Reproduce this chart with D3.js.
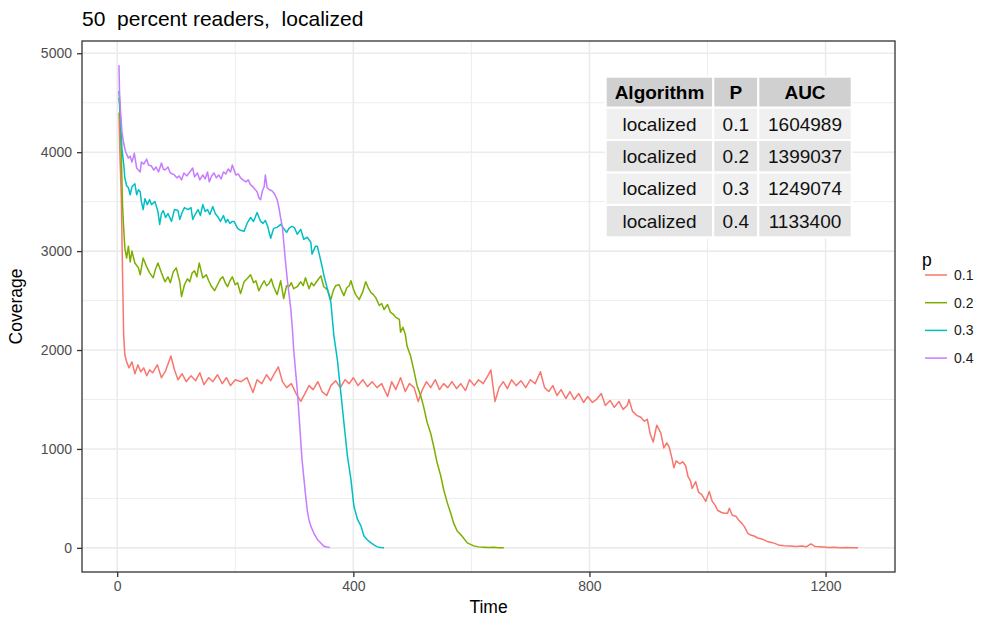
<!DOCTYPE html>
<html>
<head>
<meta charset="utf-8">
<script src="https://cdn.jsdelivr.net/npm/d3@7"></script>
<style>
  body { margin: 0; background: #ffffff; }
  svg { font-family: "Liberation Sans", Arial, sans-serif; }
</style>
</head>
<body>
<div id="my_dataviz"></div>
<script>

// Coverage over time, one list of [time, coverage] per p value
const coverageP01 = [[3,4400],[5,3900],[7,3550],[9,2800],[11,2150],[13,1950],[16,1880],[20,1820],[25,1880],[30,1760],[35,1850],[40,1780],[45,1820],[50,1740],[55,1800],[60,1770],[68,1850],[75,1720],[82,1790],[91,1940],[97,1800],[103,1700],[110,1760],[117,1680],[125,1740],[133,1690],[140,1770],[147,1650],[155,1720],[162,1680],[170,1750],[178,1660],[185,1720],[192,1640],[200,1700],[210,1680],[220,1720],[230,1570],[237,1700],[245,1660],[253,1750],[260,1690],[267,1770],[273,1830],[280,1680],[287,1620],[295,1660],[303,1560],[311,1480],[318,1560],[325,1640],[332,1600],[340,1680],[347,1580],[355,1540],[362,1640],[370,1690],[378,1620],[386,1700],[393,1660],[400,1720],[408,1640],[416,1700],[424,1630],[432,1680],[440,1620],[448,1660],[458,1530],[465,1680],[472,1600],[480,1720],[488,1580],[495,1660],[503,1620],[510,1480],[517,1600],[524,1680],[531,1620],[539,1700],[546,1600],[553,1660],[560,1620],[567,1680],[575,1610],[582,1660],[590,1590],[597,1700],[605,1640],[612,1700],[620,1660],[627,1730],[633,1800],[640,1480],[647,1620],[654,1680],[661,1610],[668,1700],[676,1640],[684,1690],[692,1620],[700,1700],[708,1660],[717,1780],[724,1620],[731,1580],[738,1640],[745,1540],[752,1600],[760,1510],[767,1580],[774,1500],[782,1560],[790,1470],[797,1530],[805,1470],[812,1500],[820,1560],[827,1440],[835,1490],[842,1420],[850,1480],[857,1400],[864,1440],[867,1500],[873,1380],[880,1340],[887,1320],[893,1280],[898,1300],[903,1150],[908,1070],[914,1240],[921,1160],[926,1010],[931,1060],[935,1020],[940,900],[943,810],[947,880],[953,850],[958,870],[963,830],[967,720],[971,680],[974,600],[980,670],[985,560],[990,540],[997,470],[1003,570],[1008,470],[1013,430],[1017,380],[1023,360],[1028,350],[1034,350],[1037,400],[1042,330],[1048,320],[1053,280],[1058,250],[1063,210],[1068,150],[1073,130],[1079,120],[1085,100],[1092,90],[1101,65],[1108,55],[1113,48],[1120,30],[1130,22],[1140,20],[1150,15],[1160,18],[1168,12],[1175,40],[1182,15],[1190,12],[1197,8],[1205,3],[1215,5],[1225,2],[1235,4],[1245,1],[1255,2]]

const coverageP02 = [[3,4550],[4,4480],[7,3980],[9,3470],[11,3230],[13,3030],[16,2930],[19,3050],[22,2890],[25,3000],[30,2880],[36,2830],[39,2760],[44,2930],[50,2840],[55,2780],[61,2730],[65,2820],[69,2880],[75,2780],[81,2690],[86,2740],[90,2680],[95,2790],[100,2830],[106,2690],[109,2540],[114,2660],[119,2720],[123,2690],[127,2780],[131,2800],[135,2740],[139,2880],[145,2730],[151,2760],[155,2700],[159,2650],[165,2600],[170,2660],[175,2720],[179,2740],[183,2680],[187,2640],[191,2700],[195,2740],[200,2660],[204,2680],[209,2570],[215,2690],[220,2720],[226,2760],[231,2680],[235,2700],[240,2600],[245,2660],[249,2700],[253,2650],[257,2670],[261,2720],[265,2640],[271,2560],[277,2700],[282,2520],[287,2650],[291,2640],[295,2680],[299,2620],[305,2640],[311,2690],[315,2650],[319,2730],[325,2620],[329,2680],[333,2650],[339,2700],[345,2750],[350,2640],[356,2610],[362,2510],[366,2600],[370,2650],[376,2660],[380,2600],[384,2550],[389,2630],[393,2650],[396,2700],[400,2620],[404,2560],[410,2510],[416,2590],[421,2690],[426,2620],[430,2580],[434,2560],[438,2530],[444,2450],[448,2470],[452,2410],[458,2460],[463,2380],[468,2360],[472,2330],[478,2310],[480,2180],[484,2230],[488,2160],[491,2040],[497,1940],[502,1810],[508,1640],[514,1540],[519,1430],[525,1270],[531,1160],[536,1030],[542,860],[548,730],[553,590],[559,460],[565,350],[570,250],[576,170],[584,120],[593,50],[604,20],[612,10],[621,7],[630,3],[638,5],[646,2],[655,0]]

const coverageP03 = [[3,4620],[4,4520],[6,4310],[8,4040],[11,3880],[13,3740],[16,3660],[19,3640],[22,3570],[25,3650],[30,3680],[33,3570],[36,3620],[39,3600],[41,3500],[44,3420],[47,3530],[51,3470],[55,3520],[58,3470],[64,3500],[69,3400],[72,3270],[75,3380],[78,3410],[82,3340],[86,3380],[92,3300],[97,3420],[103,3410],[106,3320],[110,3390],[114,3440],[120,3420],[125,3440],[128,3320],[133,3380],[137,3420],[141,3360],[145,3470],[149,3400],[153,3420],[157,3370],[162,3450],[166,3380],[170,3350],[175,3300],[180,3360],[184,3290],[187,3320],[191,3280],[195,3300],[198,3300],[204,3230],[209,3210],[215,3200],[220,3280],[226,3340],[231,3300],[237,3390],[243,3300],[247,3280],[251,3310],[255,3250],[260,3130],[265,3230],[271,3240],[277,3270],[282,3230],[287,3190],[291,3230],[296,3250],[300,3240],[305,3170],[311,3220],[316,3120],[322,3140],[328,3090],[330,2970],[336,3050],[339,3050],[345,2900],[348,2820],[350,2760],[356,2620],[362,2480],[367,2150],[373,1900],[379,1560],[384,1270],[390,930],[396,690],[401,420],[407,290],[413,220],[418,120],[424,80],[430,50],[436,25],[441,10],[446,3],[452,0]]

const coverageP04 = [[3,4880],[4,4600],[6,4380],[8,4210],[11,4090],[14,4010],[16,3980],[19,3940],[22,3960],[25,3900],[27,3940],[29,3990],[33,3840],[36,3820],[39,3800],[41,3900],[45,3880],[50,3930],[53,3870],[58,3860],[62,3820],[66,3850],[70,3800],[75,3890],[78,3830],[81,3820],[86,3850],[90,3790],[94,3780],[97,3770],[101,3740],[105,3760],[109,3720],[113,3790],[118,3760],[123,3800],[128,3840],[131,3750],[136,3790],[140,3720],[145,3770],[149,3730],[153,3800],[156,3700],[160,3760],[164,3790],[168,3740],[172,3770],[176,3730],[180,3800],[184,3780],[188,3830],[192,3800],[195,3870],[198,3820],[201,3770],[205,3780],[209,3740],[213,3720],[218,3700],[222,3720],[226,3670],[230,3650],[234,3620],[237,3600],[240,3540],[243,3520],[246,3610],[249,3650],[251,3770],[254,3640],[258,3620],[262,3610],[265,3590],[268,3560],[271,3520],[274,3440],[277,3330],[280,3240],[282,3100],[285,2900],[288,2720],[291,2570],[294,2420],[297,2200],[299,2000],[302,1800],[305,1600],[308,1340],[311,1080],[313,900],[316,720],[319,540],[322,380],[325,280],[328,220],[333,150],[339,85],[345,50],[350,17],[355,8],[360,3]]

const pLevels = ["0.1", "0.2", "0.3", "0.4"]
const colorscheme = ["#F8766D", "#7CAE00", "#00BFC4", "#C77CFF"]

const xTicks = [0, 400, 800, 1200]
const xMinorTicks = [200, 600, 1000]
const yTicks = [0, 1000, 2000, 3000, 4000, 5000]
const yMinorTicks = [500, 1500, 2500, 3500, 4500]

const tableHeader = ["Algorithm", "P", "AUC"]
const tableAlgorithm = ["localized", "localized", "localized", "localized"]
const tableP = ["0.1", "0.2", "0.3", "0.4"]
const tableAUC = ["1604989", "1399037", "1249074", "1133400"]

const allSeries = [coverageP01, coverageP02, coverageP03, coverageP04]

// set the dimensions and margins of the graph
const totalWidth = 987, totalHeight = 618
const margin = {top: 41, right: 92, bottom: 46, left: 82},
    width = totalWidth - margin.left - margin.right,
    height = totalHeight - margin.top - margin.bottom;

const root = d3.select("#my_dataviz")
  .append("svg")
    .attr("width", totalWidth)
    .attr("height", totalHeight)

root.append("rect")
  .attr("width", totalWidth)
  .attr("height", totalHeight)
  .attr("fill", "#ffffff")

const svg = root.append("g")
  .attr("transform", `translate(${margin.left}, ${margin.top})`)

//////////
// SCALES //
//////////

// ggplot style 5% expansion on both axes
function expand(ext) {
  const pad = (ext[1] - ext[0]) * 0.05
  return [ext[0] - pad, ext[1] + pad]
}
const allPoints = allSeries.flat()

const x = d3.scaleLinear()
  .domain(expand(d3.extent(allPoints, d => d[0])))
  .range([0, width])

const y = d3.scaleLinear()
  .domain(expand(d3.extent(allPoints, d => d[1])))
  .range([height, 0])

const color = d3.scaleOrdinal()
  .domain(pLevels)
  .range(colorscheme)

//////////
// GRID //
//////////

const gridColor = "#EBEBEB"

svg.selectAll(".xminor")
  .data(xMinorTicks)
  .join("line")
  .attr("x1", d => x(d)).attr("x2", d => x(d))
  .attr("y1", 0).attr("y2", height)
  .attr("stroke", gridColor).attr("stroke-width", 0.9)

svg.selectAll(".yminor")
  .data(yMinorTicks)
  .join("line")
  .attr("y1", d => y(d)).attr("y2", d => y(d))
  .attr("x1", 0).attr("x2", width)
  .attr("stroke", gridColor).attr("stroke-width", 0.9)

svg.selectAll(".xmajor")
  .data(xTicks)
  .join("line")
  .attr("x1", d => x(d)).attr("x2", d => x(d))
  .attr("y1", 0).attr("y2", height)
  .attr("stroke", gridColor).attr("stroke-width", 1.6)

svg.selectAll(".ymajor")
  .data(yTicks)
  .join("line")
  .attr("y1", d => y(d)).attr("y2", d => y(d))
  .attr("x1", 0).attr("x2", width)
  .attr("stroke", gridColor).attr("stroke-width", 1.6)

//////////
// LINES //
//////////

const line = d3.line()
  .x(d => x(d[0]))
  .y(d => y(d[1]))

svg.selectAll(".series")
  .data(allSeries)
  .join("path")
  .attr("class", "series")
  .attr("fill", "none")
  .attr("stroke", (d, i) => color(pLevels[i]))
  .attr("stroke-width", 1.5)
  .attr("stroke-linejoin", "round")
  .attr("d", line)

// panel border
svg.append("rect")
  .attr("width", width)
  .attr("height", height)
  .attr("fill", "none")
  .attr("stroke", "#333333")
  .attr("stroke-width", 1.3)

//////////
// AXIS //
//////////

const xAxis = svg.append("g")
  .attr("transform", `translate(0, ${height})`)
  .call(d3.axisBottom(x).tickValues(xTicks).tickSize(5).tickPadding(4).tickFormat(d3.format("d")))
const yAxis = svg.append("g")
  .call(d3.axisLeft(y).tickValues(yTicks).tickSize(5).tickPadding(5).tickFormat(d3.format("d")))

for (const ax of [xAxis, yAxis]) {
  ax.select(".domain").remove()
  ax.selectAll(".tick line").attr("stroke", "#333333").attr("stroke-width", 1.3)
  ax.selectAll(".tick text")
    .attr("fill", "#4D4D4D")
    .style("font-size", "14px")
    .style("font-family", "Liberation Sans, Arial, sans-serif")
}

// axis titles
svg.append("text")
  .attr("text-anchor", "middle")
  .attr("x", width / 2)
  .attr("y", height + 41)
  .style("font-size", "17.5px")
  .text("Time")

svg.append("text")
  .attr("text-anchor", "middle")
  .attr("transform", `translate(${-60}, ${height / 2}) rotate(-90)`)
  .style("font-size", "17.5px")
  .text("Coverage")

// title (keeps the double spaces)
root.append("text")
  .attr("x", margin.left)
  .attr("y", 26)
  .style("font-size", "21px")
  .style("white-space", "pre")
  .attr("xml:space", "preserve")
  .text("50  percent readers,  localized")

//////////
// TABLE //
//////////

const colWidths = [107.6, 45, 93.4]
const headerHeight = 31
const rowHeight = 32.4
const tableX = 605.7, tableY = 76.7
const colStarts = colWidths.map((w, i) => d3.sum(colWidths.slice(0, i)))

const table = root.append("g")
  .attr("transform", `translate(${tableX}, ${tableY})`)

const headerCells = table.selectAll(".hcell")
  .data(tableHeader)
  .join("g")
  .attr("transform", (d, i) => `translate(${colStarts[i]}, 0)`)
headerCells.append("rect")
  .attr("width", (d, i) => colWidths[i])
  .attr("height", headerHeight)
  .attr("fill", "#D0D0D0")
  .attr("stroke", "#ffffff")
  .attr("stroke-width", 2)
headerCells.append("text")
  .attr("x", (d, i) => colWidths[i] / 2)
  .attr("y", headerHeight / 2)
  .attr("text-anchor", "middle")
  .attr("dy", "0.35em")
  .style("font-size", "19px")
  .style("font-weight", "bold")
  .text(d => d)

const tableRows = tableAlgorithm.map((a, i) => [a, tableP[i], tableAUC[i]])

const rows = table.selectAll(".trow")
  .data(tableRows)
  .join("g")
  .attr("transform", (d, i) => `translate(0, ${headerHeight + i * rowHeight})`)

rows.each(function(row, ri) {
  const cells = d3.select(this).selectAll("g")
    .data(row)
    .join("g")
    .attr("transform", (d, i) => `translate(${colStarts[i]}, 0)`)
  cells.append("rect")
    .attr("width", (d, i) => colWidths[i])
    .attr("height", rowHeight)
    .attr("fill", ri % 2 === 0 ? "#F0F0F0" : "#E4E4E4")
    .attr("stroke", "#ffffff")
    .attr("stroke-width", 2)
  cells.append("text")
    .attr("x", (d, i) => colWidths[i] / 2)
    .attr("y", rowHeight / 2)
    .attr("text-anchor", "middle")
    .attr("dy", "0.35em")
    .attr("fill", "#111111")
    .style("font-size", "19px")
    .text(d => d)
})

//////////
// LEGEND //
//////////

const legend = root.append("g")
  .attr("transform", "translate(922, 0)")

legend.append("text")
  .attr("x", 0)
  .attr("y", 266)
  .style("font-size", "17.5px")
  .text("p")

const legendStep = 27.7
legend.selectAll(".lkey")
  .data(pLevels)
  .join("line")
  .attr("x1", 3).attr("x2", 25)
  .attr("y1", (d, i) => 275 + i * legendStep)
  .attr("y2", (d, i) => 275 + i * legendStep)
  .attr("stroke", d => color(d))
  .attr("stroke-width", 1.5)

legend.selectAll(".llabel")
  .data(pLevels)
  .join("text")
  .attr("x", 32)
  .attr("y", (d, i) => 275 + i * legendStep)
  .attr("dy", "0.35em")
  .style("font-size", "14px")
  .attr("fill", "#1a1a1a")
  .text(d => d)

</script>
</body>
</html>
